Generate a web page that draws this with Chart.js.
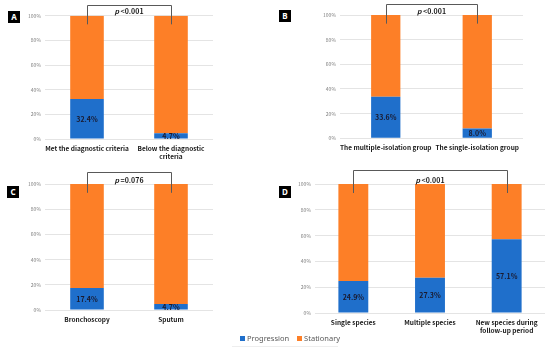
<!DOCTYPE html>
<html>
<head>
<meta charset="utf-8">
<script src="https://cdn.jsdelivr.net/npm/chart.js@4"></script>
<style>
  body { margin: 0; background: #fff; }
  #wrap { position: relative; width: 550px; height: 351px; overflow: hidden; }
  .panel { position: absolute; }
  .tag {
    position: absolute; width: 12px; height: 12px; background: #000; color: #fff;
    font: bold 8px "Noto Sans", sans-serif; text-align: center; line-height: 12px;
  }
  #legend {
    position: absolute; left: 232px; top: 333px; width: 106px; height: 13px;
    border-bottom: 1px solid #eeeeee;
    font: 7.5px "Noto Sans", sans-serif; color: #595959; white-space: nowrap;
  }
  #legend span.box { display: inline-block; width: 5px; height: 5px; margin: 0 2px 0 8px; }
</style>
</head>
<body>
<div id="wrap">
  <div class="panel" style="left:0;top:0;width:275px;height:165px"><canvas id="chartA" width="275" height="165"></canvas></div>
  <div class="panel" style="left:275px;top:0;width:275px;height:165px"><canvas id="chartB" width="275" height="165"></canvas></div>
  <div class="panel" style="left:0;top:165px;width:275px;height:186px"><canvas id="chartC" width="275" height="186"></canvas></div>
  <div class="panel" style="left:275px;top:165px;width:275px;height:186px"><canvas id="chartD" width="275" height="186"></canvas></div>
  <div class="tag" style="left:8px;top:11px">A</div>
  <div class="tag" style="left:279px;top:10px">B</div>
  <div class="tag" style="left:7px;top:186px">C</div>
  <div class="tag" style="left:279px;top:186px">D</div>
  <div id="legend"><span class="box" style="background:#1f6fcb"></span>Progression<span class="box" style="background:#fd7f27;margin-left:8px"></span>Stationary</div>
</div>
<script>
// data
const yTicks = [0, 20, 40, 60, 80, 100];

const labelsA = ["Met the diagnostic criteria", ["Below the diagnostic", "criteria"]];
const progA = [32.4, 4.7];
const statA = [67.6, 95.3];
const pA = "<0.001";

const labelsB = ["The multiple-isolation group", "The single-isolation group"];
const progB = [33.6, 8.0];
const statB = [66.4, 92.0];
const pB = "<0.001";

const labelsC = ["Bronchoscopy", "Sputum"];
const progC = [17.4, 4.7];
const statC = [82.6, 95.3];
const pC = "=0.076";

const labelsD = ["Single species", "Multiple species", ["New species during", "follow-up period"]];
const progD = [24.9, 27.3, 57.1];
const statD = [75.1, 72.7, 42.9];
const pD = "<0.001";

const BLUE = "#1f6fcb";
const ORANGE = "#fd7f27";
const FONT = "'Noto Sans CJK KR', 'Noto Sans', sans-serif";

// value labels inside the blue segments + bracket with p value
const annotate = {
  id: "annotate",
  afterDatasetsDraw(chart, args, opts) {
    const ctx = chart.ctx;
    ctx.save();
    ctx.fillStyle = "#1a1a2e";
    ctx.font = "bold 7px " + FONT;
    ctx.textAlign = "center";
    ctx.textBaseline = "middle";
    const meta = chart.getDatasetMeta(0);
    meta.data.forEach((bar, i) => {
      const v = chart.data.datasets[0].data[i];
      ctx.fillText(v.toFixed(1) + "%", bar.x, (bar.y + bar.base) / 2 + 0.5);
    });

    // bracket
    const bars = meta.data;
    const x1 = bars[0].x, x2 = bars[bars.length - 1].x;
    const y = chart.scales.y;
    const top = y.getPixelForValue(100) - opts.lift;
    const end = y.getPixelForValue(93);
    ctx.strokeStyle = "#595959";
    ctx.lineWidth = 1;
    ctx.beginPath();
    ctx.moveTo(Math.round(x1) + 0.5, end);
    ctx.lineTo(Math.round(x1) + 0.5, Math.round(top) + 0.5);
    ctx.lineTo(Math.round(x2) + 0.5, Math.round(top) + 0.5);
    ctx.lineTo(Math.round(x2) + 0.5, end);
    ctx.stroke();

    // p text
    ctx.fillStyle = "#1a1a1a";
    const p = "p", rest = " " + opts.p;
    ctx.font = "italic bold 7px " + FONT;
    const wp = ctx.measureText(p).width;
    ctx.font = "bold 7px " + FONT;
    const wr = ctx.measureText(rest).width;
    const sx = (x1 + x2) / 2 - (wp + wr) / 2;
    const ty = y.getPixelForValue(100) - opts.textUp;
    ctx.textAlign = "left";
    ctx.font = "italic bold 7px " + FONT;
    ctx.fillText(p, sx, ty);
    ctx.font = "bold 7px " + FONT;
    ctx.fillText(rest, sx + wp, ty);
    ctx.restore();
  }
};

function makeChart(id, labels, prog, stat, pText, lay) {
  return new Chart(document.getElementById(id), {
    type: "bar",
    data: {
      labels: labels,
      datasets: [
        { label: "Progression", data: prog, backgroundColor: BLUE,
          barPercentage: lay.bar, categoryPercentage: 1 },
        { label: "Stationary", data: stat, backgroundColor: ORANGE,
          barPercentage: lay.bar, categoryPercentage: 1 }
      ]
    },
    options: {
      responsive: false,
      animation: false,
      devicePixelRatio: 1,
      layout: { padding: { left: 0, top: lay.top, right: lay.right, bottom: 0 } },
      plugins: {
        legend: { display: false },
        tooltip: { enabled: false },
        annotate: { p: pText, lift: lay.lift, textUp: lay.textUp }
      },
      scales: {
        x: {
          stacked: true,
          grid: { display: false, drawTicks: false },
          border: { display: false },
          ticks: {
            color: "#1a1a1a", padding: 5, maxRotation: 0, autoSkip: false,
            font: { family: FONT, size: 6.5, weight: "bold", lineHeight: 1.25 }
          },
          afterFit: (s) => { s.height = lay.xh; }
        },
        y: {
          stacked: true,
          min: 0, max: 100,
          afterBuildTicks: (s) => { s.ticks = yTicks.map(v => ({ value: v })); },
          grid: { color: "#e4e4e4", drawTicks: false },
          border: { display: false },
          ticks: {
            color: "#808080", padding: 4,
            font: { family: FONT, size: 5 },
            callback: (v) => v + "%"
          },
          afterFit: (s) => { s.width = lay.yw; }
        }
      }
    },
    plugins: [annotate]
  });
}

makeChart("chartA", labelsA, progA, statA, pA,
  { top: 15.7, right: 62, yw: 45, xh: 26, bar: 0.4, lift: 11, textUp: 4 });
makeChart("chartB", labelsB, progB, statB, pB,
  { top: 15, right: 27, yw: 65, xh: 26.7, bar: 0.32, lift: 11, textUp: 4 });
makeChart("chartC", labelsC, progC, statC, pC,
  { top: 19, right: 62, yw: 45, xh: 41, bar: 0.4, lift: 12, textUp: 4 });
makeChart("chartD", labelsD, progD, statD, pD,
  { top: 19, right: 5, yw: 40, xh: 38, bar: 0.39, lift: 14, textUp: 4 });
</script>
</body>
</html>
